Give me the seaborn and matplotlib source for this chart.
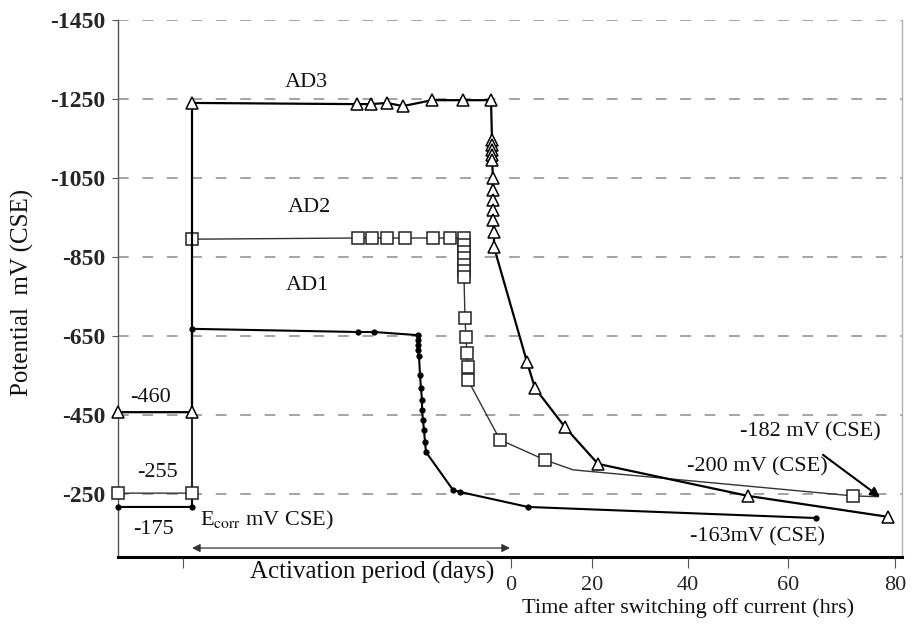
import matplotlib
matplotlib.use("Agg")
import matplotlib.pyplot as plt
import seaborn as sns
import pandas as pd

sns.set_theme(style="white")
plt.rcParams['font.family'] = ['Liberation Serif', 'DejaVu Serif']
plt.rcParams['mathtext.fontset'] = 'stix'

# Horizontal position shared by all series: hours after switching off current
# (the E_corr block and activation period sit to the left of the hour scale).
ad1_x = [-74, -59.2, -59.2, -26, -22.8, -14, -14, -14, -14, -13.8, -13.6, -13.4, -13.2,
         -13.2, -13, -12.8, -12.6, -12.4, -7, -5.6, 8, 65.6]
ad1_y = [-217, -217, -668, -660, -660, -652, -640, -627, -614, -599, -551, -518, -488,
         -463, -437, -412, -381, -356, -260, -255, -217, -189]

ad2_x = [-74, -59.2, -59.2, -26, -23.2, -20.2, -16.6, -11, -7.6, -4.8, -4.8, -4.8, -4.8,
         -4.8, -4.8, -4.8, -4.6, -4.4, -4.2, -4, -4, 2.4, 11.4, 17, 73, 78]
ad2_y = [-252, -252, -895, -898, -898, -898, -898, -898, -898, -898, -880, -863, -847,
         -830, -814, -799, -695, -647, -607, -571, -538, -387, -336, -311, -245, -243]
ad2_marked = [i for i in range(len(ad2_x)) if i not in (23, 25)]

ad3_x = [-74, -59.2, -59.2, -26.2, -23.4, -20.2, -17, -11.2, -5, 0.6, 0.8, 0.8, 0.8, 0.8,
         0.8, 1, 1, 1, 1, 1, 1.2, 1.2, 7.8, 9.4, 15.4, 22, 52, 80]
ad3_y = [-457, -457, -1240, -1237, -1237, -1240, -1232, -1247, -1247, -1247, -1146, -1134,
         -1121, -1108, -1096, -1050, -1020, -994, -969, -944, -913, -875, -584, -518,
         -419, -326, -245, -192]

y_ticks = [-1450, -1250, -1050, -850, -650, -450, -250]
x_tick_pos = [4.6, 20.8, 40, 60, 81.4]
x_tick_labels = ["0", "20", "40", "60", "80"]

fig = plt.figure(figsize=(9.14, 6.3), dpi=100)
ax = fig.add_axes([118 / 914, 73 / 630, 784 / 914, 537 / 630])

for y in y_ticks:
    ax.axhline(y, color='#8a8a8a', lw=1.1, ls=(0, (7, 9)), zorder=0)

sns.lineplot(x=ad1_x, y=ad1_y, ax=ax, sort=False, estimator=None, legend=False,
             color='black', lw=1.5, marker='o', markersize=4.5, markeredgewidth=0,
             markerfacecolor='black', clip_on=False, zorder=3)
sns.lineplot(x=ad2_x, y=ad2_y, ax=ax, sort=False, estimator=None, legend=False,
             color='#333333', lw=1.0, marker='s', markersize=8, markeredgewidth=1.1,
             markerfacecolor='white', markeredgecolor='#222222', markevery=ad2_marked,
             clip_on=False, zorder=3)
sns.lineplot(x=ad3_x, y=ad3_y, ax=ax, sort=False, estimator=None, legend=False,
             color='black', lw=1.6, marker='^', markersize=9, markeredgewidth=1.1,
             markerfacecolor='white', markeredgecolor='black', clip_on=False, zorder=3)

ax.set_xlim(-74, 82.8)
ax.set_ylim(-90.3, -1450)

ax.set_yticks(y_ticks)
ax.set_yticklabels([str(v) for v in y_ticks], fontsize=17, fontweight='bold')
ax.set_xticks(x_tick_pos)
ax.set_xticklabels(x_tick_labels, fontsize=16)
ax.set_xticks([-61], minor=True)
ax.tick_params(axis='x', which='both', direction='out', length=8, width=0.8,
               color='#555555', pad=6, bottom=True)
ax.tick_params(axis='y', direction='out', length=4, width=0.8, color='#555555',
               pad=5, left=True)
ax.set_xlabel('')
ax.set_ylabel('')

ax.spines['top'].set_visible(False)
ax.spines['bottom'].set_color('black')
ax.spines['bottom'].set_linewidth(2.2)
ax.spines['left'].set_color('#555555')
ax.spines['left'].set_linewidth(1.0)
ax.spines['right'].set_color('#b0b0b0')
ax.spines['right'].set_linewidth(1.0)

txt = dict(fontsize=16, color='#111111', ha='center', va='center')
ax.text(-36.4, -1293, 'AD3', **txt)
ax.text(-35.8, -974, 'AD2', **txt)
ax.text(-36.2, -779, 'AD1', **txt)
ax.text(-67.6, -493, '-460', **txt)
ax.text(-66, -303, '-255', **txt)
ax.text(-67, -159, '-175', **txt)
ax.text(-57.6, -184, r'E$_{\mathrm{corr}}$ mV CSE)', fontsize=16, color='#111111',
        ha='left', va='center')
ax.text(64.4, -407, '-182 mV (CSE)', **txt)
ax.text(53.8, -318, '-200 mV (CSE)', **txt)
ax.text(54, -141, '-163mV (CSE)', **txt)

ax.annotate('', xy=(-59.2, -113), xytext=(4.4, -113),
            arrowprops=dict(arrowstyle='<|-|>', color='#333333', lw=0.9,
                            mutation_scale=12, shrinkA=0, shrinkB=0))
ax.annotate('', xy=(78.4, -242), xytext=(67, -349),
            arrowprops=dict(arrowstyle='-|>', color='black', lw=1.5,
                            mutation_scale=14, shrinkA=0, shrinkB=0))

ax.text(-23.2, -52, 'Activation period (days)', fontsize=18, color='#111111',
        ha='center', va='center', clip_on=False)
ax.text(40, 40, 'Time after switching off current (hrs)', fontsize=16, color='#111111',
        ha='center', va='center', clip_on=False)
fig.text(22 / 914, 1 - 292 / 630, 'Potential  mV (CSE)', fontsize=18, color='#111111',
         rotation=90, ha='center', va='center')

fig.savefig('out.png', dpi=100, facecolor='white')
